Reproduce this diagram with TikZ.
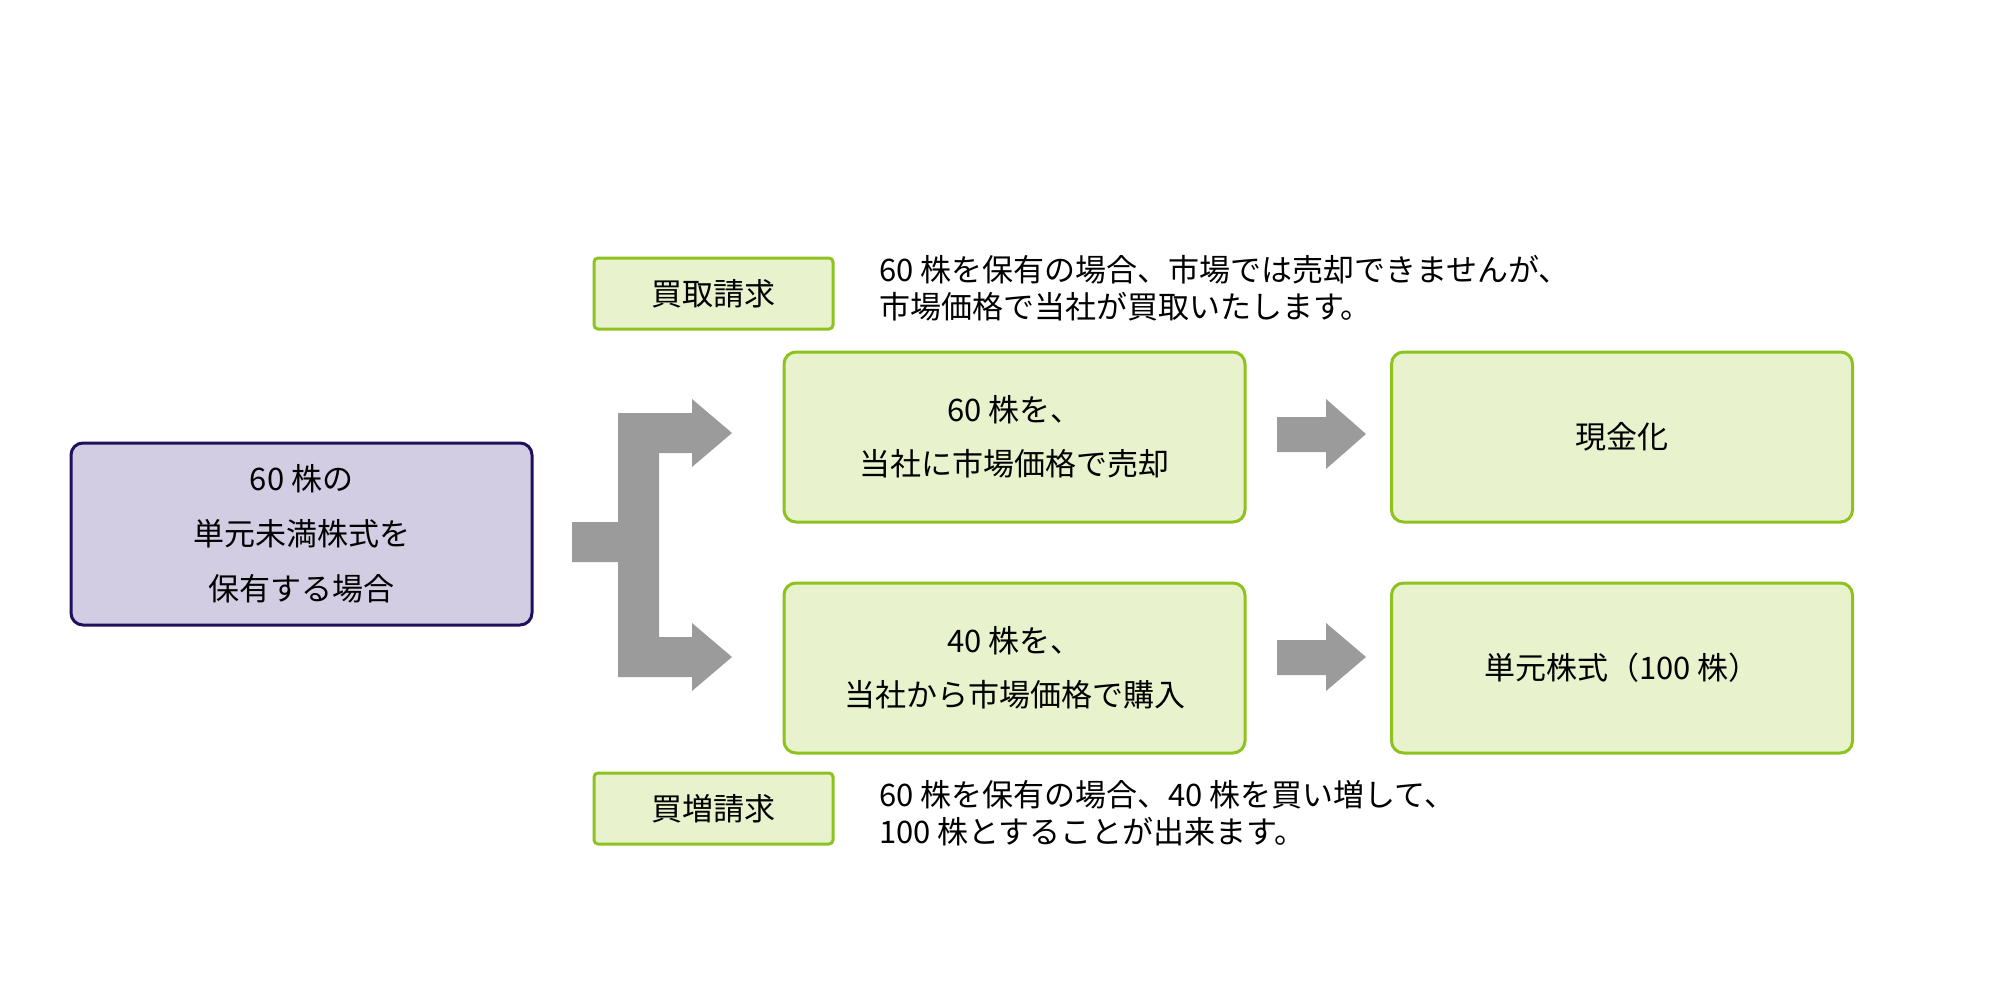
\documentclass[tikz,border=0pt]{standalone}
\usepackage{fontspec}
\setmainfont{Noto Sans CJK JP}
\definecolor{holdfill}{HTML}{D2CDE2}
\definecolor{holdline}{HTML}{1F0F5C}
\definecolor{stepfill}{HTML}{E8F2CC}
\definecolor{stepline}{HTML}{8DC21F}
\definecolor{flowgray}{HTML}{9B9B9B}
\tikzset{
	hold/.style={draw=holdline, fill=holdfill, line width=1.5pt, rounded corners=6pt,
		minimum width=230.5pt, minimum height=91pt, align=center, font=\fontsize{15.5}{27.5}\selectfont},
	stage/.style={draw=stepline, fill=stepfill, line width=1.5pt, rounded corners=6pt,
		minimum width=230.5pt, minimum height=85pt, align=center, font=\fontsize{15.5}{27}\selectfont},
	tag/.style={draw=stepline, fill=stepfill, line width=1.5pt, rounded corners=2pt,
		minimum width=119.5pt, minimum height=35.5pt, font=\fontsize{15.5}{18}\selectfont},
	note/.style={anchor=west, align=left, font=\fontsize{15.5}{18.5}\selectfont},
	flow/.style={fill=flowgray, draw=none}
}
\begin{document}
\begin{tikzpicture}[x=0.5pt, y=-0.5pt]
	\useasboundingbox (0,0) rectangle (2000,1000);

	\node [hold] (own) at (301.5,534) {60 株の\\単元未満株式を\\保有する場合};
	\node [stage] (sell) at (1014.5,437) {60 株を、\\当社に市場価格で売却};
	\node [stage] (buy) at (1014.5,668) {40 株を、\\当社から市場価格で購入};
	\node [stage] (cash) at (1622,437) {現金化};
	\node [stage] (unit) at (1622,668) {単元株式（100 株）};
	\node [tag] (selltag) at (713.5,293.5) {買取請求};
	\node [tag] (buytag) at (713.5,808.5) {買増請求};
	\node [note] (sellnote) at (872,288) {60 株を保有の場合、市場では売却できませんが、\\市場価格で当社が買取いたします。};
	\node [note] (buynote) at (872,813) {60 株を保有の場合、40 株を買い増して、\\100 株とすることが出来ます。};

	% branching arrow
	\fill [flow] (572,522) -- (618,522) -- (618,413) -- (692,413) -- (692,399) -- (732,433)
		-- (692,467) -- (692,453) -- (659,453) -- (659,637) -- (692,637) -- (692,623)
		-- (732,657) -- (692,691) -- (692,677) -- (618,677) -- (618,562) -- (572,562) -- cycle;

	% result arrows
	\fill [flow] (1277,417) -- (1326,417) -- (1326,399) -- (1366,434) -- (1326,469)
		-- (1326,452) -- (1277,452) -- cycle;
	\fill [flow] (1277,640) -- (1326,640) -- (1326,623) -- (1366,657) -- (1326,691)
		-- (1326,675) -- (1277,675) -- cycle;
\end{tikzpicture}
\end{document}
